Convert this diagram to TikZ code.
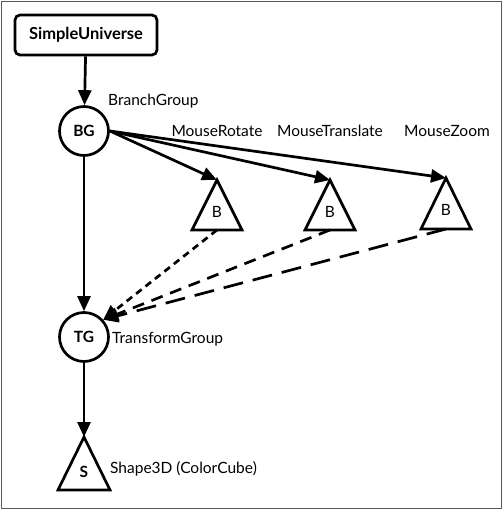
\documentclass[tikz,border=0pt]{standalone}
\usepackage{fontspec}
\setmainfont{Lato}
\usetikzlibrary{arrows.meta}
\begin{document}
\begin{tikzpicture}[x=1pt,y=-1pt,
  every node/.style={font=\fontsize{15.5}{18}\selectfont},
  edge/.style={line width=2.7pt,-{Triangle[length=15pt,width=13pt]}},
  tri/.style={line width=2.7pt,line join=miter},
  circ/.style={circle,draw,line width=2.7pt,minimum size=49pt,inner sep=0pt,font=\fontsize{15.5}{18}\selectfont\bfseries},
  lbl/.style={anchor=west,inner sep=0pt}]
\useasboundingbox (0,0) rectangle (502,509);
\draw[line width=1pt,gray!70!black] (1,1) rectangle (501,508);
\node[draw,line width=2.7pt,rounded corners=5pt,minimum width=142pt,minimum height=40pt,font=\fontsize{16.5}{19}\selectfont\bfseries] (SU) at (86,35) {SimpleUniverse};
\node[circ] (BG) at (84,131) {BG};
\node[circ] (TG) at (84,337) {TG};
% triangles
\coordinate (B1t) at (217,180); \coordinate (B1b) at (217,230);
\coordinate (B2t) at (330,180); \coordinate (B2b) at (330,230);
\coordinate (B3t) at (446,178); \coordinate (B3b) at (446,229);
\coordinate (St) at (84,437); \coordinate (Sb) at (84,490);
\draw[tri] (B1t) -- (192,230) -- (242,230) -- cycle;
\draw[tri] (B2t) -- (305,230) -- (355,230) -- cycle;
\draw[tri] (B3t) -- (421,229) -- (471,229) -- cycle;
\draw[tri] (St) -- (58,490) -- (110,490) -- cycle;
\node (B1) at (217,212) {B};
\node (B2) at (330,212) {B};
\node (B3) at (446,210) {B};
\node[font=\fontsize{15.5}{18}\selectfont\bfseries] (S) at (84,472) {S};
% labels
\node[lbl] (lBG) at (108,101) {BranchGroup};
\node (lR) at (217,131) {MouseRotate};
\node (lT) at (330,131) {MouseTranslate};
\node (lZ) at (447,131) {MouseZoom};
\node[lbl] (lTG) at (112,339) {TransformGroup};
\node[lbl] (lS) at (110,469) {Shape3D (ColorCube)};
% edges
\draw[edge] (SU) -- (BG);
\draw[edge] (BG) -- (TG);
\draw[edge] (TG) -- (St);
\draw[edge] (BG.east) -- (B1t);
\draw[edge] (BG.east) -- (B2t);
\draw[edge] (BG.east) -- (B3t);
\draw[edge,dash pattern=on 7pt off 5pt] (B1b) -- (TG.42);
\draw[edge,dash pattern=on 12pt off 8pt] (B2b) -- (TG.42);
\draw[edge,dash pattern=on 20pt off 10pt] (B3b) -- (TG.42);
\end{tikzpicture}
\end{document}
